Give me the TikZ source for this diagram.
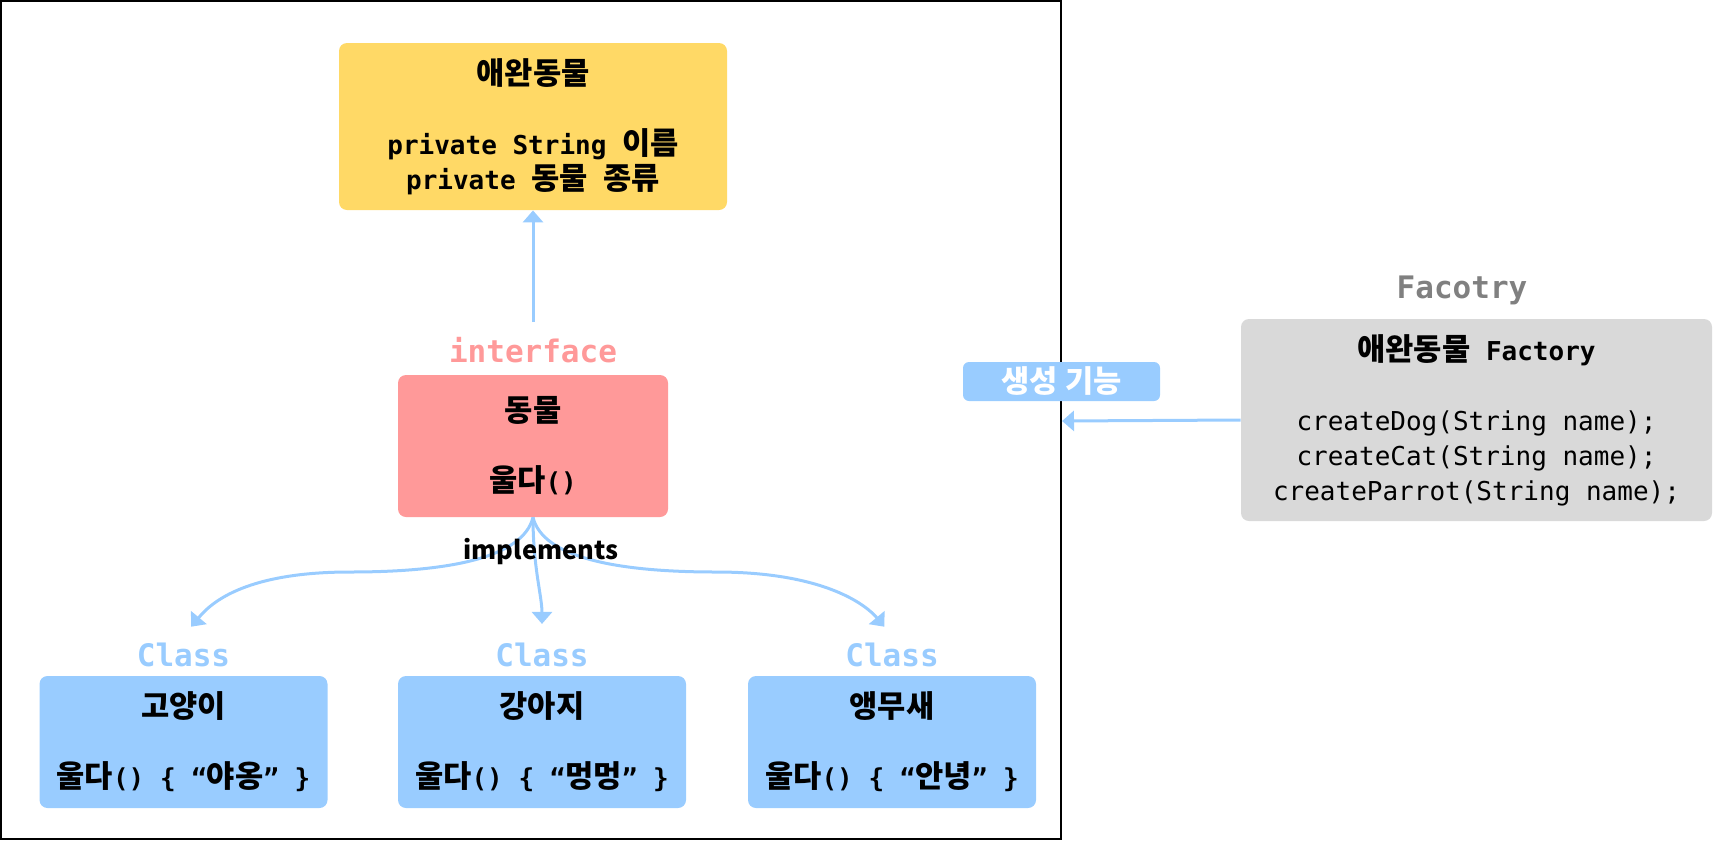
\documentclass[tikz,border=0pt]{standalone}
\usepackage{fontspec}
\setmainfont{DejaVu Sans Mono}
\newfontfamily\kofont[Scale=1.18]{Noto Sans CJK KR}
\newcommand{\ko}[1]{{\kofont #1}}
\usetikzlibrary{arrows.meta}
\definecolor{petyellow}{HTML}{FFD966}
\definecolor{ifpink}{HTML}{FF9999}
\definecolor{clsblue}{HTML}{99CCFF}
\definecolor{facgray}{HTML}{D9D9D9}
\definecolor{taggray}{HTML}{808080}

\begin{document}
\begin{tikzpicture}[x=0.5pt,y=-0.5pt,
		box/.style={rounded corners=4pt,align=center,inner sep=0pt,font=\fontsize{13}{17.5}\selectfont\bfseries},
		typelabel/.style={font=\fontsize{15.5}{18}\selectfont\bfseries},
		arr/.style={draw=clsblue,line width=1.5pt,-{Triangle[length=6pt,width=10pt]}}]
		\useasboundingbox (0,0) rectangle (1713,841);
		\draw[line width=1pt] (1,1) rectangle (1061,839);

		\node[box,fill=petyellow,minimum width=194pt,minimum height=83.5pt] (companion) at (533,126.5) {\ko{애완동물}\\[17.5pt]private String \ko{이름}\\private \ko{동물} \ko{종류}};
		\node[typelabel,text=ifpink] (iface) at (533,350) {interface};
		\node[box,fill=ifpink,minimum width=135pt,minimum height=71pt] (animal) at (533,446) {\ko{동물}\\[17.5pt]\ko{울다}()};

		\foreach \i/\x/\n/\s in {1/183.5/고양이/야옹,2/542/강아지/멍멍,3/892/앵무새/안녕} {
			\node[typelabel,text=clsblue] (cls_\i) at (\x,655) {Class};
			\node[box,fill=clsblue,minimum width=144pt,minimum height=66pt] (pet_\i) at (\x,742) {\ko{\n}\\[17.5pt]\ko{울다}() \{ “\ko{\s}” \}};
		}

		\node[typelabel,text=taggray] (factag) at (1462,290) {Facotry};
		\node[box,fill=facgray,minimum width=235.5pt,minimum height=101pt] (factory) at (1476.5,420) {\ko{애완동물} Factory\\[17.5pt]\mdseries createDog(String name);\\\mdseries createCat(String name);\\\mdseries createParrot(String name);};
		\node[box,fill=clsblue,text=white,minimum width=98.5pt,minimum height=19.5pt,rounded corners=3pt] (make) at (1061.5,381.5) {\ko{생성 기능}};

		\coordinate (ifacetop) at (533,322);
		\coordinate (bend_1) at (350,572);
		\coordinate (bend_3) at (716,572);
		\coordinate (frameedge) at (1062,421);

		\draw[arr] (ifacetop) -- (companion.south);
		\draw[arr,shorten >=6pt] (animal.south) .. controls +(-10,40) and +(100,0) .. (bend_1) .. controls +(-110,0) and +(25,-30) .. (cls_1.north);
		\draw[arr,shorten >=6pt] (animal.south) .. controls +(0,50) and +(0,-40) .. (cls_2.north);
		\draw[arr,shorten >=6pt] (animal.south) .. controls +(10,40) and +(-100,0) .. (bend_3) .. controls +(110,0) and +(-25,-30) .. (cls_3.north);
		\draw[arr] (factory.west) -- (frameedge);

		\node[font=\fontsize{10.8}{14}\kofont\bfseries] (impl) at (541,552) {implements};
	\end{tikzpicture}
\end{document}
